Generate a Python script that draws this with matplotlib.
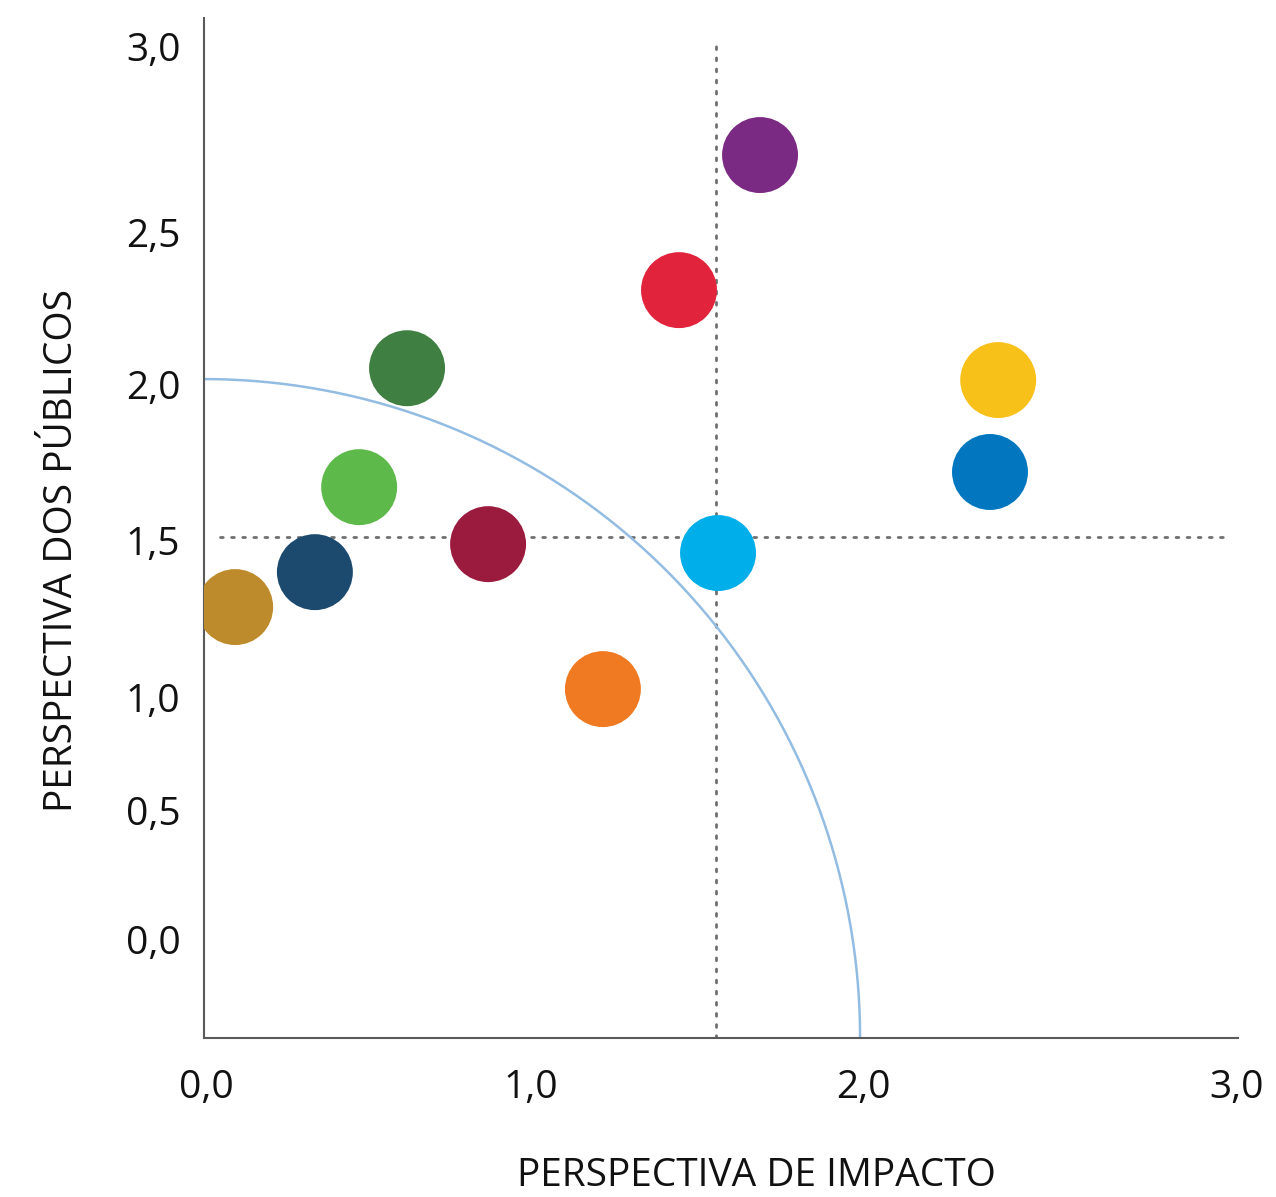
import numpy as np
import matplotlib
matplotlib.use("Agg")
import matplotlib.pyplot as plt

plt.rcParams['font.family'] = ['Open Sans', 'DejaVu Sans']

# Data (impact x, publics y)
x_vals = [0.095, 0.338, 0.473, 0.619, 0.866, 1.216, 1.448, 1.567, 1.695, 2.421, 2.396]
y_vals = [1.308, 1.414, 1.672, 2.033, 1.499, 1.059, 2.270, 1.472, 2.680, 1.997, 1.718]
colors = ['#BE8B2C', '#1B4A6E', '#5DB94A', '#3F7F41', '#9B1B3F', '#F07A22',
          '#E2233C', '#00AEEA', '#7B2A83', '#F8C11A', '#0277BF']

# Reference lines
vline_x = 1.561
hline_y = 1.52
arc_radius = 2.0

# Tick labels (positions as drawn in the original)
xtick_pos = [0.008, 0.997, 2.01, 3.148]
xtick_labels = ['0,0', '1,0', '2,0', '3,0']
ytick_pos = [3.011, 2.446, 1.985, 1.511, 1.035, 0.692, 0.300]
ytick_labels = ['3,0', '2,5', '2,0', '1,5', '1,0', '0,5', '0,0']

fig = plt.figure(figsize=(12.76, 11.97), dpi=100)
ax = fig.add_axes([204/1276, (1197-1038)/1197, 1034/1276, (1038-18)/1197])
ax.set_xlim(0, 3.152)
ax.set_ylim(0, 3.096)

# dotted guide lines
ax.plot([vline_x, vline_x], [0, 3.03], color='#6f6f6f', lw=2.0,
        linestyle=(0, (1, 3.0)), dash_capstyle='round', zorder=1)
ax.plot([0.05, 3.105], [hline_y, hline_y], color='#6f6f6f', lw=2.0,
        linestyle=(0, (1, 3.0)), dash_capstyle='round', zorder=1)

# arc
t = np.linspace(0, np.pi/2, 300)
ax.plot(arc_radius*np.cos(t), arc_radius*np.sin(t), color='#93BCE3', lw=1.8, zorder=2)

ax.scatter(x_vals, y_vals, s=2990, c=colors, edgecolors='none', zorder=3)

for side in ['top', 'right']:
    ax.spines[side].set_visible(False)
for side in ['left', 'bottom']:
    ax.spines[side].set_color('#5a5a5a')
    ax.spines[side].set_linewidth(1.5)

ax.set_xticks(xtick_pos)
ax.set_xticklabels(xtick_labels)
ax.set_yticks(ytick_pos)
ax.set_yticklabels(ytick_labels)
ax.tick_params(axis='both', length=0, labelsize=28, colors='#111111')
ax.tick_params(axis='y', pad=17)
ax.tick_params(axis='x', pad=22)

fig.text(756/1276, 1 - 1186/1197, 'PERSPECTIVA DE IMPACTO', ha='center', va='baseline',
         fontsize=28, color='#111111')
fig.text(62/1276, 1 - 550/1197, 'PERSPECTIVA DOS PÚBLICOS', ha='center', va='center',
         rotation=90, fontsize=28, color='#111111')

fig.savefig('out.png', dpi=100)
